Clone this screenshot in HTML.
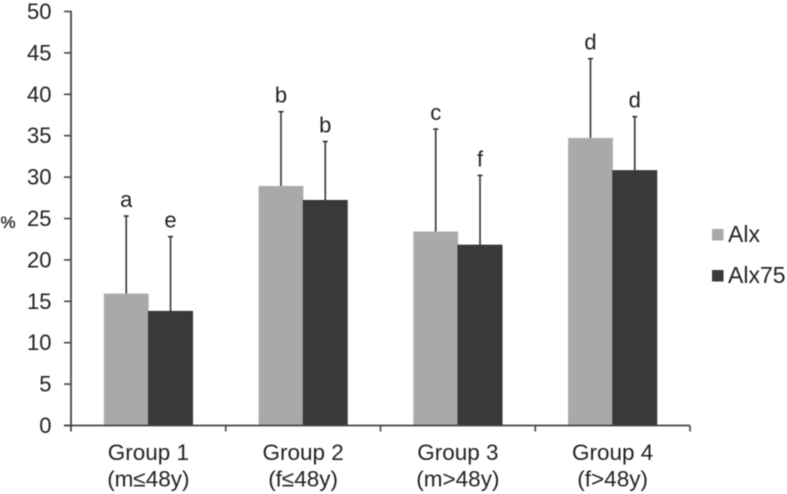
<!DOCTYPE html>
<html>
<head>
<meta charset="utf-8">
<style>
html,body{margin:0;padding:0;background:#fff;}
svg{display:block;filter:blur(0.4px);}
text{font-family:"Liberation Sans",sans-serif;fill:#222;}
</style>
</head>
<body>
<svg id="chart" width="787" height="494" viewBox="0 0 787 494" xmlns="http://www.w3.org/2000/svg"></svg>
<script>
const categories = ["Group 1", "Group 2", "Group 3", "Group 4"];
const subLabels = ["(m≤48y)", "(f≤48y)", "(m>48y)", "(f>48y)"];
const alx = [15.9, 28.9, 23.4, 34.7];
const alx75 = [13.8, 27.2, 21.8, 30.8];
const alxUpper = [25.3, 37.9, 35.8, 44.3];
const alx75Upper = [22.8, 34.3, 30.2, 37.3];
const alxLetters = ["a", "b", "c", "d"];
const alx75Letters = ["e", "b", "f", "d"];
const yTicks = [0, 5, 10, 15, 20, 25, 30, 35, 40, 45, 50];

const svg = document.getElementById('chart');
const NS = 'http://www.w3.org/2000/svg';
const left = 71, right = 690, top0 = 11.5, bottom = 425.5, yMax = 50;
const y = v => bottom - (v / yMax) * (bottom - top0);
const band = (right - left) / categories.length;
const x = i => left + band * i;
const barW = 44.3;
const axisColor = '#444';
const colors = ['#a9a9a9', '#393939'];

function add(tag, attrs, name, interact, text) {
  const el = document.createElementNS(NS, tag);
  for (const k in attrs) el.setAttribute(k, attrs[k]);
  
  
  if (text !== undefined) el.textContent = text;
  svg.appendChild(el);
  return el;
}

function drawBar(i, s, val, up, letter, sName) {
  const cx0 = x(i) + band / 2;
  const bx = s === 0 ? cx0 - barW : cx0;
  const cx = bx + barW / 2;
  add('line', {x1: cx, x2: cx, y1: y(up), y2: y(val), stroke: '#333', 'stroke-width': 1.6}, 'error-bar-' + sName + '-' + (i + 1), 'false');
  add('line', {x1: cx - 2.5, x2: cx + 2.5, y1: y(up), y2: y(up), stroke: '#333', 'stroke-width': 1.6}, 'error-cap-' + sName + '-' + (i + 1), 'false');
  add('rect', {x: bx, y: y(val), width: barW, height: bottom - y(val), fill: colors[s], stroke: s === 0 ? '#b5b5b5' : '#2c2c2c', 'stroke-width': 0.6}, 'bar-' + sName + '-group-' + (i + 1), 'true');
  add('text', {x: cx, y: y(up) - 9, 'text-anchor': 'middle', 'font-size': 22}, 'significance-letter-' + sName + '-' + (i + 1), 'false', letter);
}

categories.forEach((c, i) => {
  drawBar(i, 0, alx[i], alxUpper[i], alxLetters[i], 'alx');
  drawBar(i, 1, alx75[i], alx75Upper[i], alx75Letters[i], 'alx75');
});

add('line', {x1: left, x2: left, y1: top0 - 0.8, y2: bottom + 6, stroke: axisColor, 'stroke-width': 1.8}, 'y-axis', 'false');
add('line', {x1: left - 7, x2: right, y1: bottom, y2: bottom, stroke: axisColor, 'stroke-width': 1.8}, 'x-axis', 'false');

yTicks.forEach(t => {
  add('line', {x1: left - 7, x2: left, y1: y(t), y2: y(t), stroke: axisColor, 'stroke-width': 1.6}, 'y-tick-' + t, 'false');
  add('text', {x: 51.5, y: y(t) + 7.5, 'text-anchor': 'end', 'font-size': 22}, 'y-tick-label-' + t, 'false', String(t));
});

categories.forEach((c, i) => {
  add('line', {x1: x(i + 1), x2: x(i + 1), y1: bottom, y2: bottom + 6, stroke: axisColor, 'stroke-width': 1.6}, 'x-tick-' + (i + 1), 'false');
  const cx = x(i) + band / 2;
  add('text', {x: cx, y: 460, 'text-anchor': 'middle', 'font-size': 22.5}, 'x-label-group-' + (i + 1), 'false', c);
  add('text', {x: cx, y: 486.5, 'text-anchor': 'middle', 'font-size': 22.5}, 'x-sublabel-group-' + (i + 1), 'false', subLabels[i]);
});

add('text', {x: 0.5, y: 228, 'font-size': 17, stroke: '#222', 'stroke-width': 0.3}, 'y-axis-title', 'false', '%');

add('rect', {x: 712, y: 229, width: 11.5, height: 11.5, fill: colors[0]}, 'legend-swatch-alx', 'false');
add('text', {x: 728, y: 242, 'font-size': 23}, 'legend-label-alx', 'true', 'Alx');
add('rect', {x: 712, y: 270, width: 11.5, height: 11.5, fill: colors[1]}, 'legend-swatch-alx75', 'false');
add('text', {x: 728, y: 283, 'font-size': 23}, 'legend-label-alx75', 'true', 'Alx75');
</script>
</body>
</html>
